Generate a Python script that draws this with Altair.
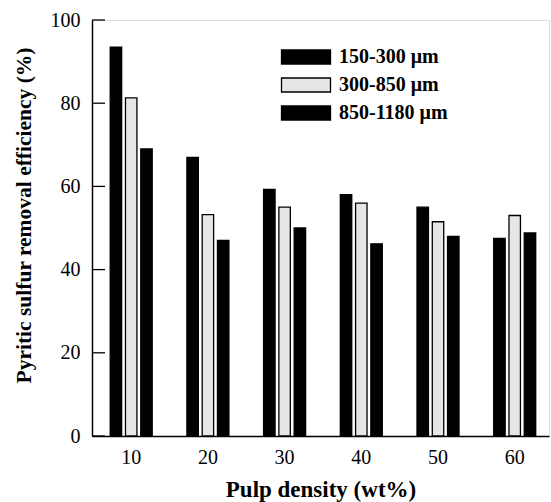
import altair as alt
import pandas as pd

densities = ["10", "20", "30", "40", "50", "60"]
series = ["150-300 μm", "300-850 μm", "850-1180 μm"]
vals_150_300 = [93.5, 67.0, 59.3, 58.0, 55.0, 47.5]
vals_300_850 = [81.3, 53.2, 55.0, 56.0, 51.5, 53.0]
vals_850_1180 = [69.0, 47.0, 50.0, 46.2, 48.0, 48.8]
y_ticks = [0, 20, 40, 60, 80, 100]

rows = []
for s, vals in zip(series, [vals_150_300, vals_300_850, vals_850_1180]):
    for d, v in zip(densities, vals):
        rows.append({"density": d, "size": s, "eff": v})
df = pd.DataFrame(rows)
ticks_df = pd.DataFrame({"t": y_ticks})

FONT = "Liberation Serif"

yscale = alt.Scale(domain=[0, 100], nice=False, zero=True)

bars = alt.Chart(df).mark_bar(stroke="black", strokeWidth=1.3).encode(
    x=alt.X("density:N", sort=densities,
            scale=alt.Scale(paddingInner=0.4524, paddingOuter=0.2053, align=0.578),
            axis=alt.Axis(title="Pulp density (wt%)", labelAngle=0, ticks=False, tickSize=0,
                          labelFont=FONT, labelFontSize=20, labelColor="black",
                          labelBaseline="alphabetic", labelPadding=27,
                          titleFont=FONT, titleFontSize=23, titleFontWeight="bold",
                          titleColor="black", titleBaseline="alphabetic", titleY=60,
                          domainColor="black", domainWidth=1.5, grid=False)),
    xOffset=alt.XOffset("size:N", sort=series,
                        scale=alt.Scale(paddingInner=0.25, paddingOuter=0.0)),
    y=alt.Y("eff:Q", scale=yscale,
            axis=alt.Axis(title="Pyritic sulfur removal efficiency (%)", values=y_ticks,
                          ticks=False, tickSize=0, labelPadding=12,
                          labelFont=FONT, labelFontSize=20, labelColor="black",
                          titleFont=FONT, titleFontSize=21.5, titleFontWeight="bold",
                          titleColor="black", titleBaseline="alphabetic",
                          titleX=-62, titleY=195, titleAngle=270,
                          domainColor="black", domainWidth=1.5, grid=False)),
    fill=alt.Fill("size:N", sort=series,
                  scale=alt.Scale(domain=series, range=["#000000", "#e6e6e6", "#000000"]),
                  legend=alt.Legend(title=None, orient="none", legendX=204, legendY=27,
                                    symbolType="M-3.5,-1L3.5,-1L3.5,1L-3.5,1Z",
                                    symbolSize=196, symbolStrokeColor="black",
                                    symbolStrokeWidth=1.3, symbolOpacity=1,
                                    labelFont=FONT, labelFontSize=20, labelFontWeight="bold",
                                    labelColor="black", labelOffset=23, rowPadding=8,
                                    padding=0)),
)

tick_rules = alt.Chart(ticks_df).mark_rule(color="black", strokeWidth=1.3).encode(
    y=alt.Y("t:Q", scale=yscale),
    x=alt.value(0),
    x2=alt.value(13),
)

chart = alt.layer(bars, tick_rules).properties(
    width=457, height=416,
    padding={"left": 92, "top": 20, "right": 2, "bottom": 66},
    autosize=alt.AutoSizeParams(type="none"),
).configure_view(stroke="black", strokeWidth=1).configure(background="white")

chart.save("out.html", embed_options={"renderer": "svg", "actions": False})
